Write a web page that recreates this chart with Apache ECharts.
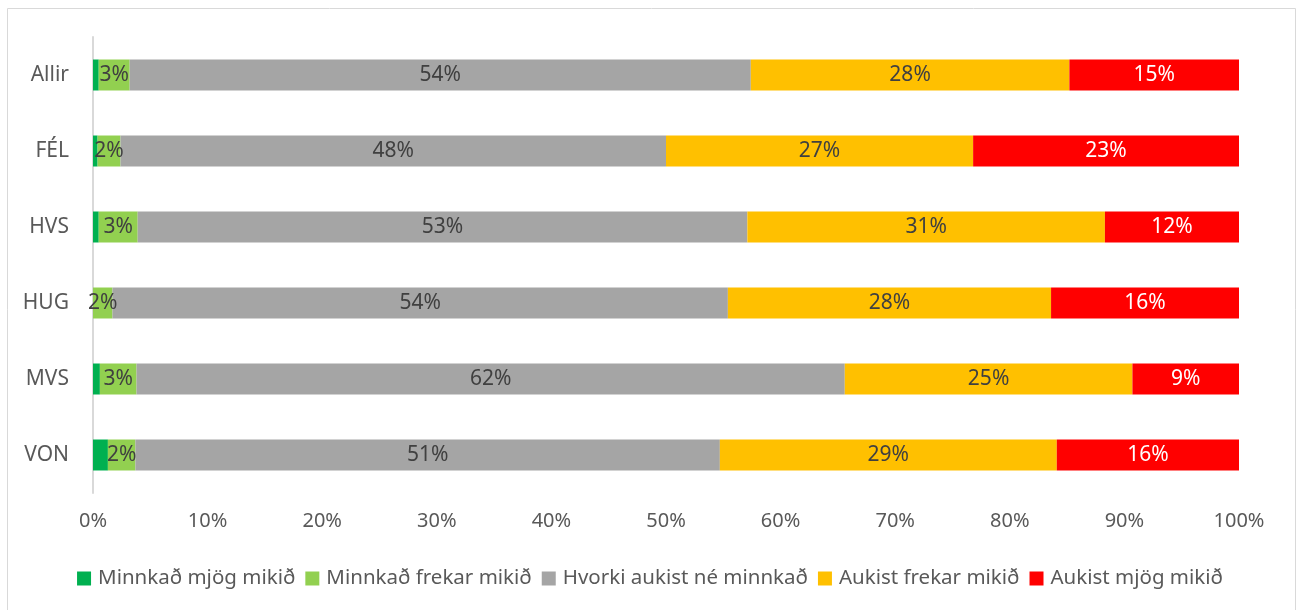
<!DOCTYPE html>
<html style="height: 100%">
<head>
  <meta charset="UTF-8">
  <title>ECharts</title>
  <script src="https://cdn.jsdelivr.net/npm/echarts@6/dist/echarts.min.js"></script>
</head>
<body style="height: 100%; margin: 0; background: #fff">
<div id="main" style="width: 1300px; height: 610px"></div>

<script>
  // Categories, top to bottom
  const categories = ['Allir', 'FÉL', 'HVS', 'HUG', 'MVS', 'VON'];

  // Series names (legend)
  const seriesNames = [
    'Minnkað mjög mikið',
    'Minnkað frekar mikið',
    'Hvorki aukist né minnkað',
    'Aukist frekar mikið',
    'Aukist mjög mikið'
  ];

  // Shares in % per category
  const minnkadMjog   = [0.5, 0.4, 0.5, 0.0, 0.6, 1.3];
  const minnkadFrekar = [2.7, 2.0, 3.4, 1.7, 3.2, 2.4];
  const hvorki        = [54.2, 47.6, 53.2, 53.7, 61.8, 51.0];
  const aukistFrekar  = [27.8, 26.8, 31.2, 28.2, 25.1, 29.4];
  const aukistMjog    = [14.8, 23.2, 11.7, 16.4, 9.3, 15.9];

  const colors = ['#00B050', '#92D050', '#A5A5A5', '#FFC000', '#FF0000'];
  const labelColors = ['#404040', '#404040', '#404040', '#404040', '#FFFFFF'];
  const values = [minnkadMjog, minnkadFrekar, hvorki, aukistFrekar, aukistMjog];

  const font = 'Noto Sans, sans-serif';

  let series = seriesNames.map((name, i) => ({
    name: name,
    type: 'bar',
    stack: 'total',
    barWidth: 31,
    data: values[i],
    itemStyle: { color: colors[i] },
    label: {
      show: i > 0,
      position: 'inside',
      color: labelColors[i],
      fontSize: 21,
      fontFamily: font,
      formatter: p => Math.round(p.value) + '%'
    },
    emphasis: { disabled: true }
  }));

  let option = {
    animation: false,
    graphic: [{
      type: 'rect',
      shape: { x: 7.5, y: 8.5, width: 1288, height: 620 },
      style: { fill: 'none', stroke: '#D9D9D9', lineWidth: 1 }
    }],
    legend: {
      bottom: 16,
      left: 'center',
      itemWidth: 14,
      itemHeight: 14,
      itemGap: 10,
      icon: 'rect',
      textStyle: {
        fontSize: 20.5,
        color: '#595959',
        fontFamily: font,
        padding: [0, 0, 0, 2]
      },
      data: seriesNames
    },
    grid: {
      left: 93,
      right: 61,
      top: 37,
      bottom: 117
    },
    xAxis: {
      type: 'value',
      min: 0,
      max: 100,
      interval: 10,
      axisLine: { show: false },
      axisTick: { show: false },
      splitLine: { show: false },
      axisLabel: {
        formatter: '{value}%',
        color: '#595959',
        fontSize: 20,
        fontFamily: font,
        margin: 18
      }
    },
    yAxis: {
      type: 'category',
      inverse: true,
      data: categories,
      axisLine: { lineStyle: { color: '#D9D9D9', width: 2 } },
      axisTick: { show: false },
      axisLabel: {
        color: '#595959',
        fontSize: 21,
        fontFamily: font,
        margin: 24
      }
    },
    series: series
  };

  let chart = echarts.init(document.getElementById('main'), null, { renderer: 'canvas' });
  chart.setOption(option);
</script>
</body>
</html>
